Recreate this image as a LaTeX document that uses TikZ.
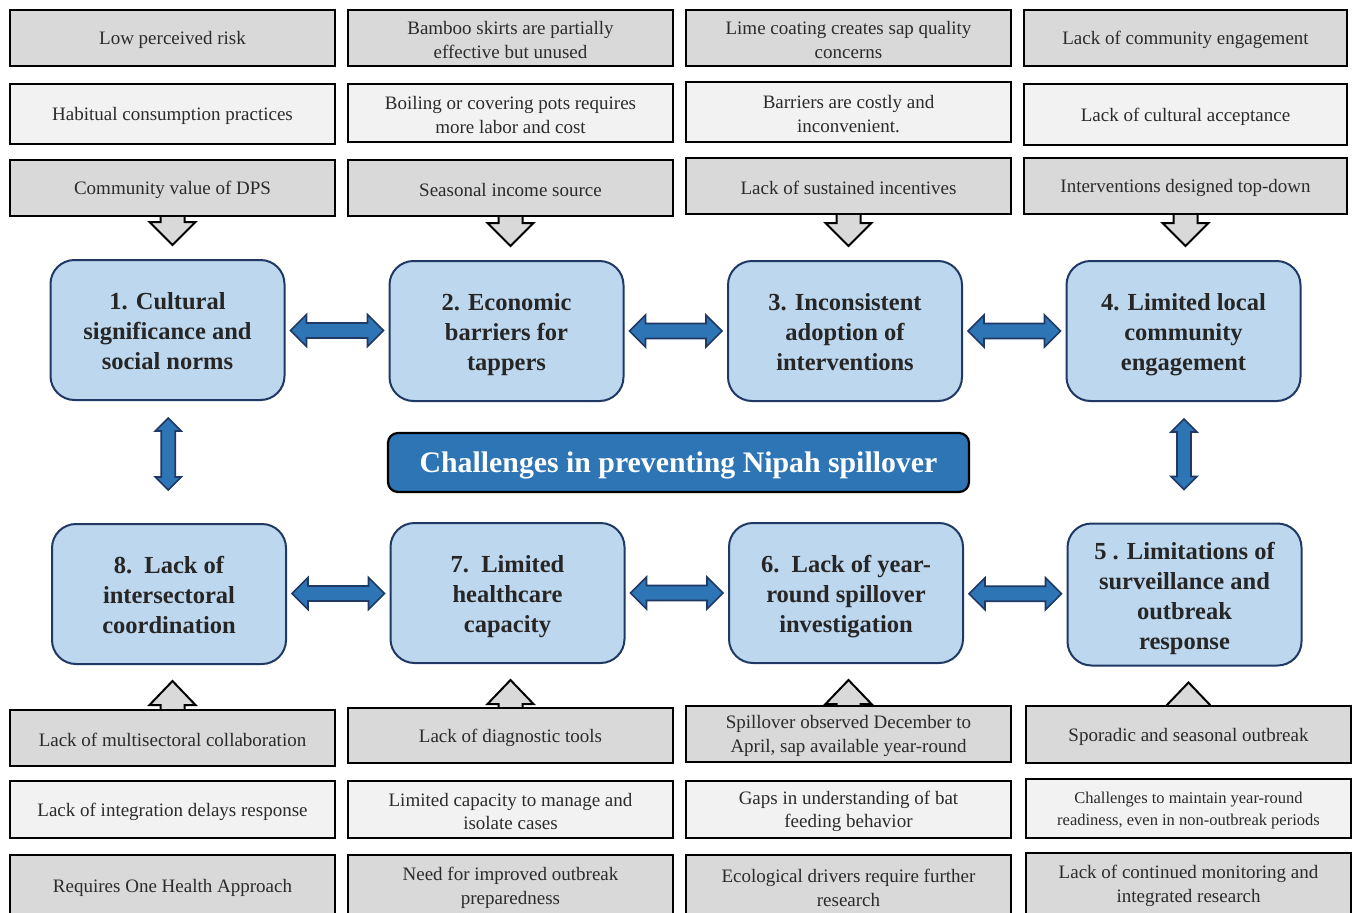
\documentclass[tikz,border=0pt]{standalone}
\usepackage{fontspec}
\setmainfont{Liberation Serif}
\usetikzlibrary{calc,backgrounds}
\definecolor{gdark}{HTML}{D9D9D9}
\definecolor{glight}{HTML}{F2F2F2}
\definecolor{bfill}{HTML}{BDD7EE}
\definecolor{bline}{HTML}{1F3864}
\definecolor{tfill}{HTML}{2E75B6}
\definecolor{gtext}{HTML}{2B2B2B}
\definecolor{btext}{HTML}{262626}
\tikzset{
  gbox/.style={draw=black, line width=2.2pt, fill=gdark, align=center, inner sep=2pt,
    text=gtext, font=\fontsize{19}{23.5}\selectfont,
    execute at begin node={\rule{0pt}{17.5pt}}},
  lbox/.style={gbox, fill=glight},
  twoline/.style={execute at begin node={\rule{0pt}{40.5pt}}},
  bbox/.style={draw=bline, line width=2pt, fill=bfill, rounded corners=24pt, align=center,
    text=btext, minimum width=234pt, minimum height=140pt, inner sep=2pt,
    font=\fontsize{24.5}{30}\selectfont\bfseries,
    execute at begin node={\rule{0pt}{85pt}},
    execute at end node={\rule[-5.5pt]{0pt}{5.5pt}}},
  titlebox/.style={draw=black, line width=2.2pt, fill=tfill, rounded corners=10pt,
    text=white, minimum width=581pt, minimum height=59pt,
    font=\fontsize{29.8}{34}\selectfont\bfseries,
    execute at begin node={\rule{0pt}{26pt}}},
  blockarr/.style={draw=black, line width=2pt, fill=gdark, line join=miter},
  bluearr/.style={draw=bline, line width=1.6pt, fill=tfill, line join=miter},
}
% horizontal double arrow between #1 (left) and #2 (right)
\newcommand\hdarrow[2]{%
  \path[bluearr] let \p1=(#1.east), \p2=(#2.west), \p3=($(#1.east)!.5!(#2.west)$) in
  (\x1+5pt,\y3) -- (\x1+21pt,\y3+16pt) -- (\x1+21pt,\y3+7.5pt) -- (\x2-21pt,\y3+7.5pt)
  -- (\x2-21pt,\y3+16pt) -- (\x2-5pt,\y3) -- (\x2-21pt,\y3-16pt) -- (\x2-21pt,\y3-7.5pt)
  -- (\x1+21pt,\y3-7.5pt) -- (\x1+21pt,\y3-16pt) -- cycle;}
% vertical double arrow between #1 (top) and #2 (bottom)
\newcommand\vdarrow[2]{%
  \path[bluearr] let \p1=(#1.south), \p2=(#2.north), \p3=($(#1.south)!.5!(#2.north)$) in
  (\x3,\y1-17pt) -- (\x3+13pt,\y1-30pt) -- (\x3+7pt,\y1-30pt) -- (\x3+7pt,\y2+46pt)
  -- (\x3+13pt,\y2+46pt) -- (\x3,\y2+33pt) -- (\x3-13pt,\y2+46pt) -- (\x3-7pt,\y2+46pt)
  -- (\x3-7pt,\y1-30pt) -- (\x3-13pt,\y1-30pt) -- cycle;}
% down block arrow from gray box #1 to blue box #2
\newcommand\dnarrowblk[2]{%
  \path[blockarr] let \p1=(#1.south), \p2=(#2.north) in
  (\x1-12pt,\y1+3pt) -- (\x1-12pt,\y2+37pt) -- (\x1-23pt,\y2+37pt) -- (\x1,\y2+14pt)
  -- (\x1+23pt,\y2+37pt) -- (\x1+12pt,\y2+37pt) -- (\x1+12pt,\y1+3pt) -- cycle;}
% up block arrow from gray box #1 to blue box #2
\newcommand\uparrowblk[2]{%
  \path[blockarr] let \p1=(#1.north), \p2=(#2.south) in
  (\x1-12pt,\y1-3pt) -- (\x1-12pt,\y2-40pt) -- (\x1-23pt,\y2-40pt) -- (\x1,\y2-16pt)
  -- (\x1+23pt,\y2-40pt) -- (\x1+12pt,\y2-40pt) -- (\x1+12pt,\y1-3pt) -- cycle;}
\begin{document}
\begin{tikzpicture}[x=1pt,y=-1pt]
\useasboundingbox (0,0) rectangle (1353,913);
\clip (0,0) rectangle (1353,913);
% top gray rows
\node[gbox, minimum width=325, minimum height=56] (a1) at (172.5,38) {Low perceived risk};
\node[gbox, twoline, minimum width=325, minimum height=56] (a2) at (510.5,38) {Bamboo skirts are partially\\effective but unused};
\node[gbox, twoline, minimum width=325, minimum height=56] (a3) at (848.5,38) {Lime coating creates sap quality\\concerns};
\node[gbox, minimum width=323, minimum height=56] (a4) at (1185.5,38) {Lack of community engagement};
\node[lbox, minimum width=325, minimum height=60] (m1) at (172.5,114) {Habitual consumption practices};
\node[lbox, twoline, minimum width=325, minimum height=58] (m2) at (510.5,113) {Boiling or covering pots requires\\more labor and cost};
\node[lbox, twoline, minimum width=325, minimum height=60] (m3) at (848.5,112) {Barriers are costly and\\inconvenient.};
\node[lbox, minimum width=323, minimum height=61] (m4) at (1185.5,114.5) {Lack of cultural acceptance};
\node[gbox, minimum width=325, minimum height=56] (c1) at (172.5,188) {Community value of DPS};
\node[gbox, minimum width=325, minimum height=56] (c2) at (510.5,188) {Seasonal income source};
\node[gbox, minimum width=325, minimum height=56] (c3) at (848.5,186) {Lack of sustained incentives};
\node[gbox, minimum width=323, minimum height=56] (c4) at (1185.5,186) {Interventions designed top-down};
% blue boxes
\node[bbox] (b1) at (167.5,330) {1. Cultural\\significance and\\social norms};
\node[bbox] (b2) at (506.5,331) {2. Economic\\barriers for\\tappers};
\node[bbox] (b3) at (845,331) {3. Inconsistent\\adoption of\\interventions};
\node[bbox] (b4) at (1183.5,331) {4. Limited local\\community\\engagement};
\node[bbox] (b8) at (169,594) {8.\ \ Lack of\\intersectoral\\coordination};
\node[bbox] (b7) at (507.5,593) {7.\ \ Limited\\healthcare\\capacity};
\node[bbox] (b6) at (846,593) {6.\ \ Lack of year-\\round spillover\\investigation};
\node[bbox, minimum height=142, execute at begin node={\rule{0pt}{115pt}}] (b5) at (1184.5,594.5) {5 . Limitations of\\surveillance and\\outbreak\\response};
% title
\node[titlebox] (t) at (678.5,462.5) {Challenges in preventing Nipah spillover};
% bottom gray rows
\node[gbox, minimum width=325, minimum height=56] (d1) at (172.5,738) {Lack of multisectoral collaboration};
\node[gbox, minimum width=325, minimum height=55] (d2) at (510.5,735.5) {Lack of diagnostic tools};
\node[gbox, twoline, minimum width=325, minimum height=56] (d3) at (848.5,734) {Spillover observed December to\\April, sap available year-round};
\node[gbox, minimum width=325, minimum height=57] (d4) at (1188.5,734.5) {Sporadic and seasonal outbreak};
\node[lbox, minimum width=325, minimum height=57] (e1) at (172.5,809.5) {Lack of integration delays response};
\node[lbox, twoline, minimum width=325, minimum height=57] (e2) at (510.5,809.5) {Limited capacity to manage and\\isolate cases};
\node[lbox, twoline, minimum width=325, minimum height=57] (e3) at (848.5,809.5) {Gaps in understanding of bat\\feeding behavior};
\node[lbox, minimum width=325, minimum height=59, font=\fontsize{16.5}{22}\selectfont, execute at begin node={\rule{0pt}{37pt}}] (e4) at (1188.5,808.5) {Challenges to maintain year-round\\readiness, even in non-outbreak periods};
\node[gbox, minimum width=325, minimum height=62] (f1) at (172.5,886) {Requires One Health Approach};
\node[gbox, twoline, minimum width=325, minimum height=62] (f2) at (510.5,886) {Need for improved outbreak\\preparedness};
\node[gbox, twoline, minimum width=325, minimum height=62] (f3) at (848.5,886) {Ecological drivers require further\\research};
\node[gbox, twoline, minimum width=325, minimum height=62] (f4) at (1188.5,884) {Lack of continued monitoring and\\integrated research};
% arrows
\begin{scope}[on background layer]
\dnarrowblk{c1}{b1}
\dnarrowblk{c2}{b2}
\dnarrowblk{c3}{b3}
\dnarrowblk{c4}{b4}
\uparrowblk{d1}{b8}
\uparrowblk{d2}{b7}
\uparrowblk{d3}{b6}
\uparrowblk{d4}{b5}
\end{scope}
\hdarrow{b1}{b2}
\hdarrow{b2}{b3}
\hdarrow{b3}{b4}
\hdarrow{b8}{b7}
\hdarrow{b7}{b6}
\hdarrow{b6}{b5}
\vdarrow{b1}{b8}
\vdarrow{b4}{b5}
\end{tikzpicture}
\end{document}
